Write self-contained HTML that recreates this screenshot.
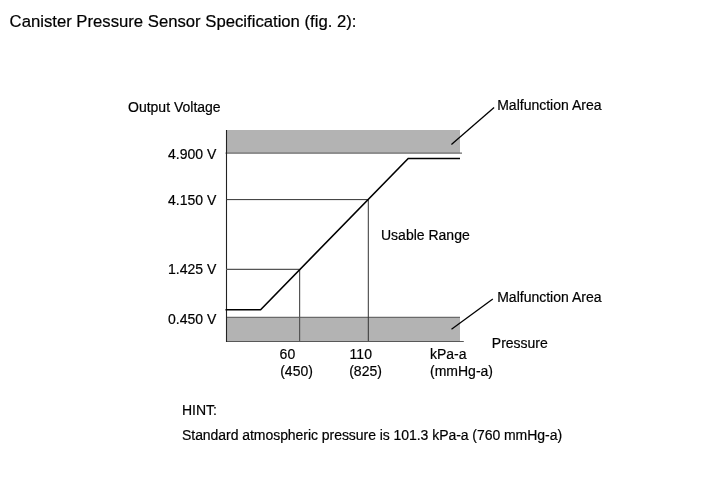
<!DOCTYPE html>
<html><head><meta charset="utf-8"><style>
html,body{margin:0;padding:0;background:#fff;}
body{width:713px;height:481px;position:relative;overflow:hidden;font-family:"Liberation Sans",sans-serif;color:#000;-webkit-text-stroke:0.2px #000;}
.t{position:absolute;white-space:nowrap;}

.wrap{position:absolute;left:0;top:0;width:713px;height:481px;will-change:transform;}
</style></head><body>
<div class="wrap">
<svg width="713" height="481" viewBox="0 0 713 481" style="position:absolute;left:0;top:0">
<rect x="227" y="130" width="233" height="23" fill="#b3b3b3"/>
<rect x="227" y="317" width="233" height="24" fill="#b3b3b3"/>
<line x1="225.5" y1="153.1" x2="462" y2="153.1" stroke="#6a6a6a" stroke-width="1.2"/>
<line x1="226" y1="317.3" x2="460" y2="317.3" stroke="#6a6a6a" stroke-width="1.2"/>
<line x1="226" y1="341.5" x2="463.8" y2="341.5" stroke="#585858" stroke-width="1.1"/>
<line x1="226.5" y1="130" x2="226.5" y2="342" stroke="#222" stroke-width="1.1"/>
<line x1="226" y1="199.6" x2="368.3" y2="199.6" stroke="#333" stroke-width="1"/>
<line x1="368.3" y1="199.6" x2="368.3" y2="341" stroke="#333" stroke-width="1"/>
<line x1="226" y1="269.3" x2="299.6" y2="269.3" stroke="#555" stroke-width="1.2"/>
<line x1="299.6" y1="269.3" x2="299.6" y2="341" stroke="#555" stroke-width="1.2"/>
<polyline points="225.5,309.7 260.6,309.7 408.2,158.5 460,158.5" fill="none" stroke="#000" stroke-width="1.6"/>
<line x1="451.4" y1="144.5" x2="494.1" y2="107.4" stroke="#000" stroke-width="1.3"/>
<line x1="451.5" y1="329.3" x2="492.8" y2="299" stroke="#000" stroke-width="1.3"/>
</svg>
<div class="t" style="left:9.60px;top:13.77px;font-size:16.7px;line-height:16.7px;letter-spacing:0px">Canister Pressure Sensor Specification (fig. 2):</div>
<div class="t" style="left:128.00px;top:99.85px;font-size:14px;line-height:14px;letter-spacing:0px">Output Voltage</div>
<div class="t" style="left:497.20px;top:98.45px;font-size:14px;line-height:14px;letter-spacing:0px">Malfunction Area</div>
<div class="t" style="right:496.70px;top:147.05px;font-size:14px;line-height:14px;letter-spacing:0px">4.900 V</div>
<div class="t" style="right:496.70px;top:192.85px;font-size:14px;line-height:14px;letter-spacing:0px">4.150 V</div>
<div class="t" style="left:381.00px;top:227.95px;font-size:14px;line-height:14px;letter-spacing:0px">Usable Range</div>
<div class="t" style="right:496.70px;top:261.75px;font-size:14px;line-height:14px;letter-spacing:0px">1.425 V</div>
<div class="t" style="left:497.20px;top:290.05px;font-size:14px;line-height:14px;letter-spacing:0px">Malfunction Area</div>
<div class="t" style="right:496.70px;top:312.15px;font-size:14px;line-height:14px;letter-spacing:0px">0.450 V</div>
<div class="t" style="left:491.80px;top:335.85px;font-size:14px;line-height:14px;letter-spacing:0px">Pressure</div>
<div class="t" style="left:279.60px;top:347.05px;font-size:14px;line-height:14px;letter-spacing:0px">60</div>
<div class="t" style="left:349.60px;top:347.05px;font-size:14px;line-height:14px;letter-spacing:0px">110</div>
<div class="t" style="left:430.00px;top:346.65px;font-size:14px;line-height:14px;letter-spacing:0px">kPa-a</div>
<div class="t" style="left:280.20px;top:364.35px;font-size:14px;line-height:14px;letter-spacing:0px">(450)</div>
<div class="t" style="left:349.20px;top:364.35px;font-size:14px;line-height:14px;letter-spacing:0px">(825)</div>
<div class="t" style="left:430.00px;top:364.35px;font-size:14px;line-height:14px;letter-spacing:0px">(mmHg-a)</div>
<div class="t" style="left:182.00px;top:402.85px;font-size:14px;line-height:14px;letter-spacing:0px">HINT:</div>
<div class="t" style="left:182.00px;top:428.05px;font-size:14px;line-height:14px;letter-spacing:-0.05px">Standard atmospheric pressure is 101.3 kPa-a (760 mmHg-a)</div>
</div>
</body></html>
